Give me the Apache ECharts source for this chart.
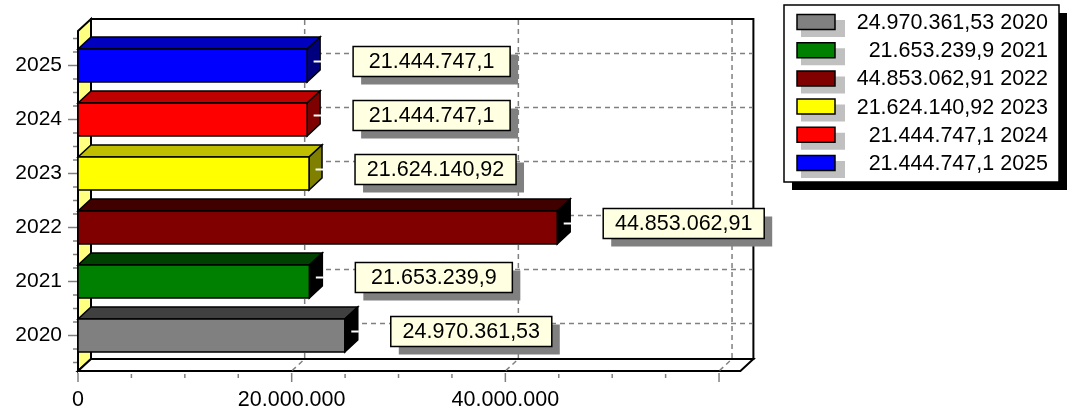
<!DOCTYPE html>
<html><head><meta charset="utf-8">
<script src="https://cdn.jsdelivr.net/npm/echarts@6/dist/echarts.min.js"></script>
<style>html,body{margin:0;padding:0;background:#fff}#c{width:1079px;height:414px}</style>
</head><body><div id="c"></div>
<script>
// ---- data ----
const years = ['2020', '2021', '2022', '2023', '2024', '2025'];
const values = [24970361.53, 21653239.9, 44853062.91, 21624140.92, 21444747.1, 21444747.1];
const colors = ['#808080', '#008000', '#800000', '#ffff00', '#ff0000', '#0000ff'];
const xTickLabels = [0, 20000000, 40000000];
const xGridValues = [20000000, 40000000, 60000000];
const xMinorStep = 5000000;
const xMajorStep = 20000000;
const xMax = 62000000;

const FONT = '"Liberation Sans", Arial, sans-serif';
const FS = 21;
const FS2 = 21.5;
const DX = 13, DY = 12;

function fmt(v) {
  const s = String(v);
  const parts = s.split('.');
  const ii = parts[0].replace(/\B(?=(\d{3})+(?!\d))/g, '.');
  return parts[1] ? ii + ',' + parts[1] : ii;
}
function darken(hex, q) {
  const n = parseInt(hex.slice(1), 16);
  const r = Math.max(0, ((n >> 16) & 255) - q), g = Math.max(0, ((n >> 8) & 255) - q), b = Math.max(0, (n & 255) - q);
  return 'rgb(' + r + ',' + g + ',' + b + ')';
}
const mctx = document.createElement('canvas').getContext('2d');
mctx.font = FS2 + 'px ' + FONT;

const dashStyle = { stroke: '#808080', lineWidth: 1.5, lineDash: [5, 4], fill: null };

function frameRender(params, api) {
  const c0 = api.coord([0, 0]);
  const c5 = api.coord([0, years.length - 1]);
  const band = api.size([0, 1])[1];
  const xL = c0[0];
  const xR = api.coord([xMax, 0])[0];
  const yB = c0[1] + band / 2 + 8.5;
  const yT = c5[1] - band / 2 - 7.5;
  const ch = [];
  ch.push({ type: 'rect', shape: { x: xL + DX, y: yT - DY, width: xR - xL, height: yB - yT }, style: { fill: '#fff', stroke: '#000', lineWidth: 2 } });
  ch.push({ type: 'polygon', shape: { points: [[xL, yT], [xL + DX, yT - DY], [xL + DX, yB - DY], [xL, yB]] }, style: { fill: '#ffff80', stroke: '#000', lineWidth: 2 } });
  ch.push({ type: 'polygon', shape: { points: [[xL, yB], [xL + DX, yB - DY], [xR + DX, yB - DY], [xR, yB]] }, style: { fill: '#fff', stroke: '#000', lineWidth: 2 } });
  for (let i = 0; i < years.length; i++) {
    const y = api.coord([0, i])[1] - DY;
    ch.push({ type: 'line', shape: { x1: xL + DX + 1, y1: y, x2: xR + DX - 1, y2: y }, style: dashStyle });
  }
  xGridValues.forEach(v => {
    const x = api.coord([v, 0])[0];
    ch.push({ type: 'polyline', shape: { points: [[x + DX, yT - DY + 1], [x + DX, yB - DY], [x, yB]] }, style: dashStyle });
  });
  // y ticks
  const yTop = c5[1] - band / 2;
  for (let k = 0; k <= years.length * 4; k++) {
    const y = yTop + k * band / 4;
    const major = k % 4 === 2;
    ch.push({ type: 'line', shape: { x1: xL - (major ? 10 : 5), y1: y, x2: xL - 1, y2: y }, style: { stroke: '#808080', lineWidth: 1.5 } });
  }
  // x ticks
  for (let v = 0; v <= xGridValues[xGridValues.length - 1]; v += xMinorStep) {
    const x = api.coord([v, 0])[0];
    const major = v % xMajorStep === 0;
    ch.push({ type: 'line', shape: { x1: x, y1: yB + (major ? 2 : 3), x2: x, y2: yB + (major ? 11 : 7) }, style: { stroke: '#808080', lineWidth: 1.5 } });
  }
  return { type: 'group', children: ch };
}

function barRender(params, api) {
  const v = api.value(0), i = api.value(1);
  const p0 = api.coord([0, i]);
  const p1 = api.coord([v, i]);
  const band = api.size([0, 1])[1];
  const h = band * 0.611;
  const x0 = p0[0], x1 = p1[0], yc = p0[1];
  const yt = yc - h / 2, yb = yc + h / 2;
  const col = colors[i];
  const st = { stroke: '#000', lineWidth: 1.5 };
  const txt = fmt(values[i]);
  const tw = mctx.measureText(txt).width;
  const bw = Math.max(Math.round(tw + 24), 157), bh = 30;
  const lx = x1 + 46, ly = yc - 4;
  return {
    type: 'group', children: [
      { type: 'polygon', shape: { points: [[x0, yt], [x0 + DX, yt - DY], [x1 + DX, yt - DY], [x1, yt]] }, style: Object.assign({ fill: darken(col, 64) }, st) },
      { type: 'polygon', shape: { points: [[x1, yt], [x1 + DX, yt - DY], [x1 + DX, yb - DY], [x1, yb]] }, style: Object.assign({ fill: darken(col, 128) }, st) },
      { type: 'rect', shape: { x: x0, y: yt, width: x1 - x0, height: h }, style: Object.assign({ fill: col }, st) },
      { type: 'line', shape: { x1: x1 + DX / 2, y1: ly, x2: x1 + DX + 1, y2: ly }, style: { stroke: '#fff', lineWidth: 2 } },
      { type: 'rect', shape: { x: lx + 8, y: ly - bh / 2 + 8, width: bw, height: bh }, style: { fill: '#808080' } },
      { type: 'rect', shape: { x: lx, y: ly - bh / 2, width: bw, height: bh }, style: { fill: '#ffffe1', stroke: '#000', lineWidth: 1.5 } },
      { type: 'text', x: lx + bw / 2, y: ly + 1, style: { text: txt, fill: '#000', fontSize: FS2, fontFamily: FONT, align: 'center', verticalAlign: 'middle' } }
    ]
  };
}

// legend graphic
const legendEls = [
  { type: 'rect', shape: { x: 792, y: 13, width: 275, height: 177 }, style: { fill: '#000' } },
  { type: 'rect', shape: { x: 784, y: 5, width: 275, height: 177 }, style: { fill: '#fff', stroke: '#000', lineWidth: 1.5 } }
];
years.forEach((y, i) => {
  const cy = 22 + 28.2 * i;
  legendEls.push({ type: 'rect', shape: { x: 801, y: cy - 2, width: 44, height: 17 }, style: { fill: '#c0c0c0' } });
  legendEls.push({ type: 'rect', shape: { x: 797, y: cy - 7.5, width: 38, height: 15 }, style: { fill: colors[i], stroke: '#000', lineWidth: 1.5 } });
  legendEls.push({ type: 'text', x: 1048, y: cy + 1, style: { text: fmt(values[i]) + ' ' + y, fill: '#000', fontSize: FS2, fontFamily: FONT, align: 'right', verticalAlign: 'middle' } });
});

const chart = echarts.init(document.getElementById('c'), null, { renderer: 'canvas' });
chart.setOption({
  animation: false,
  backgroundColor: '#fff',
  grid: { left: 78, top: 38.5, width: 662.4, height: 324 },
  xAxis: {
    type: 'value', min: 0, max: xMax, interval: xMajorStep, offset: 8.5,
    axisLine: { show: false }, axisTick: { show: false }, splitLine: { show: false },
    axisLabel: { formatter: v => xTickLabels.includes(v) ? fmt(v) : '', fontSize: FS2, fontFamily: FONT, color: '#000', margin: 18, showMaxLabel: false }
  },
  yAxis: {
    type: 'category', data: years,
    axisLine: { show: false }, axisTick: { show: false }, splitLine: { show: false },
    axisLabel: { fontSize: FS, fontFamily: FONT, color: '#000', margin: 16 }
  },
  graphic: legendEls,
  series: [
    { type: 'custom', silent: true, z: 1, data: [[0, 0]], encode: { x: 0, y: 1 }, renderItem: frameRender, clip: false },
    { type: 'custom', silent: true, z: 2, data: values.map((v, i) => [v, i]), encode: { x: 0, y: 1 }, renderItem: barRender, clip: false }
  ]
});
</script>
</body></html>
